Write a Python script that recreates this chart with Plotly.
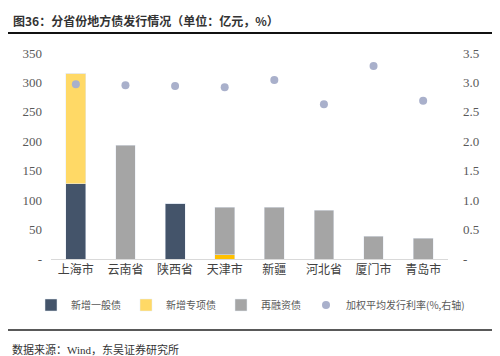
import plotly.graph_objects as go

categories = ["上海市", "云南省", "陕西省", "天津市", "新疆", "河北省", "厦门市", "青岛市"]
new_general = [128, 0, 95, 0, 0, 0, 0, 0]
new_special = [188, 0, 0, 7, 0, 0, 0, 0]
refinancing = [0, 193, 0, 81, 88, 83, 39, 35]
avg_rate = [2.97, 2.95, 2.94, 2.92, 3.04, 2.63, 3.28, 2.69]

left_ticks = [0, 50, 100, 150, 200, 250, 300, 350]
left_labels = ["-", "50", "100", "150", "200", "250", "300", "350"]
right_ticks = [0, 0.5, 1.0, 1.5, 2.0, 2.5, 3.0, 3.5]
right_labels = ["-", "0.5", "1.0", "1.5", "2.0", "2.5", "3.0", "3.5"]

title_text = "图36：分省份地方债发行情况（单位：亿元，%）"
source_text = "数据来源：Wind，东吴证券研究所"

special_colors = ["#FFD966" if i == 0 else "#FFC000" for i in range(len(categories))]

FONT = "Liberation Serif, Noto Serif CJK SC, Noto Sans CJK SC"

fig = go.Figure()
fig.add_trace(go.Bar(x=categories, y=new_general, name="新增一般债",
                     marker=dict(color="#44546A"), width=0.4))
fig.add_trace(go.Bar(x=categories, y=new_special, name="新增专项债",
                     marker=dict(color=special_colors), width=0.4))
fig.add_trace(go.Bar(x=categories, y=refinancing, name="再融资债",
                     marker=dict(color="#A5A5A5"), width=0.4))
fig.add_trace(go.Scatter(x=categories, y=avg_rate, name="加权平均发行利率(%,右轴)",
                         mode="markers", yaxis="y2",
                         marker=dict(color="#A9B0CB", size=8)))

W, H = 500, 356
L, R, T, B = 43, 60, 45, 105
pw = W - L - R
ph = H - T - B

def px(x):
    return (x - L) / pw

def py(y):
    return (H - B - y) / ph

fig.update_layout(
    width=W, height=H,
    margin=dict(l=L, r=R, t=T, b=B, autoexpand=False),
    barmode="stack",
    bargap=0.6,
    plot_bgcolor="white", paper_bgcolor="white",
    font=dict(family=FONT, size=12, color="#595959"),
    showlegend=True,
    legend=dict(orientation="h", x=px(462), xanchor="right", y=py(297), yanchor="middle",
                font=dict(size=10, color="#595959", family="Noto Sans CJK SC"),
                itemwidth=30, traceorder="normal", tracegroupgap=0),
    xaxis=dict(showline=True, linecolor="#D9D9D9", linewidth=1, ticks="",
               tickfont=dict(family="Noto Sans CJK SC", size=12, color="#404040"),
               showgrid=False),
    yaxis=dict(range=[0, 350], tickvals=left_ticks, ticktext=left_labels,
               showgrid=False, zeroline=False, showline=False,
               ticks="", ticklabelstandoff=8,
               tickfont=dict(family="Liberation Serif", size=13, color="#595959")),
    yaxis2=dict(range=[0, 3.5], tickvals=right_ticks, ticktext=right_labels,
                overlaying="y", side="right", showgrid=False, zeroline=False,
                showline=False, ticks="", ticklabelstandoff=14,
                tickfont=dict(family="Liberation Serif", size=13, color="#595959")),
    shapes=[
        dict(type="line", xref="paper", yref="paper", x0=px(0), x1=px(497),
             y0=py(25), y1=py(25), line=dict(color="#111111", width=2)),
        dict(type="line", xref="paper", yref="paper", x0=px(0), x1=px(497),
             y0=py(322), y1=py(322), line=dict(color="#222222", width=1.5)),
    ],
    annotations=[
        dict(text="<b>" + title_text + "</b>", xref="paper", yref="paper",
             x=px(3), y=py(12), xanchor="left", yanchor="middle", showarrow=False,
             font=dict(family="Noto Sans CJK SC", size=12, color="#333333")),
        dict(text=source_text, xref="paper", yref="paper",
             x=px(2), y=py(341), xanchor="left", yanchor="middle", showarrow=False,
             font=dict(family="Liberation Serif, Noto Sans CJK SC", size=11, color="#333333")),
    ],
)

fig.write_html("out.html")
